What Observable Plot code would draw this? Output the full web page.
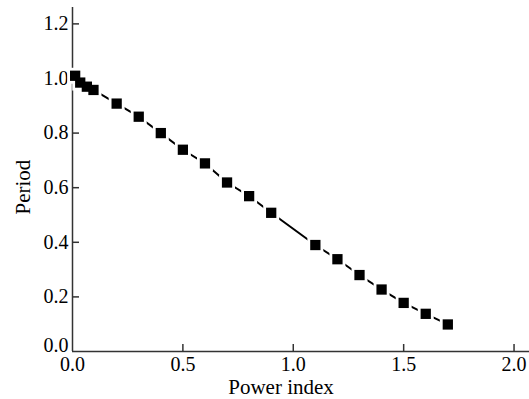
<!DOCTYPE html>
<html><head><meta charset="utf-8">
<script src="https://cdn.jsdelivr.net/npm/d3@7"></script>
<script src="https://cdn.jsdelivr.net/npm/@observablehq/plot@0.6"></script>
<style>body{margin:0;background:#fff} svg{display:block}</style>
</head><body><div id="chart"></div>
<script>
const powerIndex = [0.012, 0.035, 0.065, 0.095, 0.2, 0.3, 0.4, 0.5, 0.6, 0.7, 0.8, 0.9, 1.1, 1.2, 1.3, 1.4, 1.5, 1.6, 1.7];
const period = [1.01, 0.985, 0.97, 0.958, 0.908, 0.86, 0.80, 0.739, 0.689, 0.619, 0.569, 0.508, 0.39, 0.338, 0.28, 0.227, 0.178, 0.138, 0.099];
const xTicks = [0, 0.5, 1.0, 1.5, 2.0];
const yTicks = [0, 0.2, 0.4, 0.6, 0.8, 1.0, 1.2];
const xLabel = "Power index";
const yLabel = "Period";

const data = powerIndex.map((x, i) => ({x, y: period[i]}));
const W = 529, H = 399, mL = 72, mR = 0, mT = 7, mB = 48;
const plotW = W - mL - mR, plotH = H - mT - mB;
const tickLen = 7;
const axisColor = "#333";

const chart = Plot.plot({
  width: W, height: H,
  marginLeft: mL, marginRight: mR, marginTop: mT, marginBottom: mB,
  style: {fontFamily: "'Liberation Serif', 'Times New Roman', serif", fontSize: "20px", background: "white", color: "#000"},
  x: {domain: [0, 2.07]},
  y: {domain: [0, 1.26]},
  marks: [
    Plot.axisX(xTicks, {tickSize: 0, tickPadding: 5, label: null, tickFormat: d3.format(".1f"), fontSize: 20}),
    Plot.axisY(yTicks.filter(d => d > 0), {tickSize: 0, tickPadding: 4, label: null, tickFormat: d3.format(".1f"), fontSize: 20}),
    Plot.axisY(yTicks.filter(d => d === 0), {tickSize: 0, tickPadding: 4, label: null, tickFormat: d3.format(".1f"), fontSize: 20, dy: -6}),
    Plot.tickX(xTicks.filter(d => d > 0), {x: d => d, insetTop: plotH - tickLen, stroke: axisColor, strokeWidth: 1.5}),
    Plot.tickY(yTicks.filter(d => d > 0), {y: d => d, insetRight: plotW - tickLen, stroke: axisColor, strokeWidth: 1.5}),
    Plot.ruleY([0], {stroke: axisColor, strokeWidth: 1.5}),
    Plot.ruleX([0], {stroke: axisColor, strokeWidth: 1.5}),
    Plot.line(data, {x: "x", y: "y", stroke: "black", strokeWidth: 2}),
    Plot.dot(data, {x: "x", y: "y", symbol: "square", r: 9.0, fill: "white", stroke: "none"}),
    Plot.dot(data, {x: "x", y: "y", symbol: "square", r: 5.8, fill: "black", stroke: "none"}),
    Plot.text([xLabel], {frameAnchor: "bottom", dx: -20, dy: 42, fontSize: 21, fill: "black"}),
    Plot.text([yLabel], {frameAnchor: "left", rotate: -90, dx: -49, dy: 35, fontSize: 21, fill: "black"})
  ]
});
document.getElementById("chart").append(chart);
</script>
</body></html>
